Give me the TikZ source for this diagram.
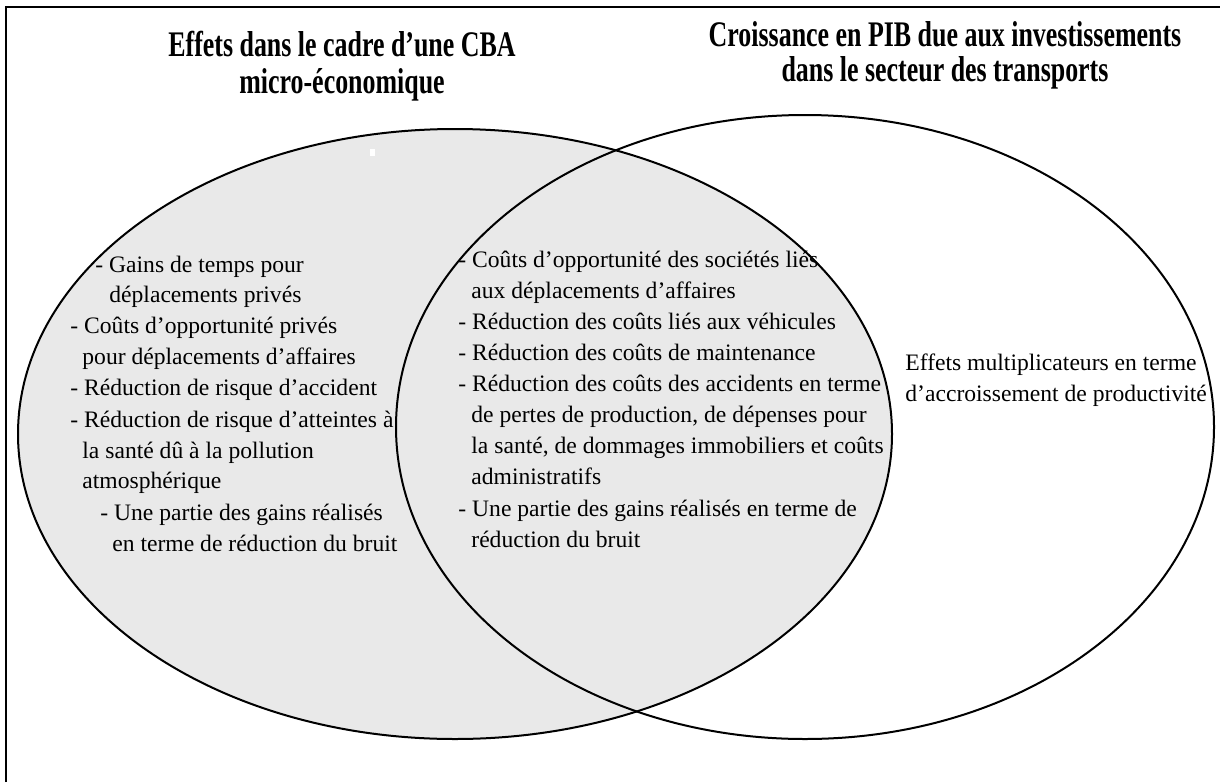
\documentclass[tikz,border=0pt]{standalone}
\usepackage{fontspec}
\setmainfont{Liberation Serif}
\usepackage{graphicx}
\definecolor{venngray}{HTML}{E9E9E9}
\newcommand{\narrow}[1]{\scalebox{0.72}[1]{#1}}
\begin{document}
\begin{tikzpicture}[x=0.5pt,y=-0.5pt,
  frame/.style={line width=1pt},
  outline/.style={line width=1pt},
  item/.style={anchor=base west, inner sep=0pt, font=\fontsize{11.8}{14}\selectfont},
  ttl/.style={anchor=base, inner sep=0pt, font=\fontsize{18}{20}\selectfont\bfseries}]
\useasboundingbox (0,0) rectangle (1220,782);
\fill[white] (0,0) rectangle (1220,782);
% open frame: left and top rules only
\draw[frame] (6,782) -- (6,7) -- (1220,7);

% the two sets
\fill[venngray] (455,434) ellipse [x radius=437, y radius=305];
\fill[white] (370,149) rectangle (375,156);
\draw[outline] (455,434) ellipse [x radius=437, y radius=305];
\draw[outline] (805,427) ellipse [x radius=409, y radius=312];

% headings
\node[ttl] (tl1) at (342,56) {\narrow{Effets dans le cadre d’une CBA}};
\node[ttl] (tl2) at (342,93) {\narrow{micro-économique}};
\node[ttl] (tr1) at (945,46) {\narrow{Croissance en PIB due aux investissements}};
\node[ttl] (tr2) at (945,81) {\narrow{dans le secteur des transports}};

% left-only effects
\node[item] (a1) at (95,272) {- Gains de temps pour};
\node[item] (a2) at (109,302) {déplacements privés};
\node[item] (a3) at (70,333) {- Coûts d’opportunité privés};
\node[item] (a4) at (82,364) {pour déplacements d’affaires};
\node[item] (a5) at (70,395) {- Réduction de risque d’accident};
\node[item] (a6) at (70,427) {- Réduction de risque d’atteintes à};
\node[item] (a7) at (82,458) {la santé dû à la pollution};
\node[item] (a8) at (82,488) {atmosphérique};
\node[item] (a9) at (100,520) {- Une partie des gains réalisés};
\node[item] (a10) at (112,551) {en terme de réduction du bruit};

% shared effects
\node[item] (b1) at (458,267) {- Coûts d’opportunité des sociétés liés};
\node[item] (b2) at (471,298) {aux déplacements d’affaires};
\node[item] (b3) at (458,329) {- Réduction des coûts liés aux véhicules};
\node[item] (b4) at (458,360) {- Réduction des coûts de maintenance};
\node[item] (b5) at (458,391) {- Réduction des coûts des accidents en terme};
\node[item] (b6) at (471,422) {de pertes de production, de dépenses pour};
\node[item] (b7) at (471,453) {la santé, de dommages immobiliers et coûts};
\node[item] (b8) at (471,484) {administratifs};
\node[item] (b9) at (458,516) {- Une partie des gains réalisés en terme de};
\node[item] (b10) at (471,547) {réduction du bruit};

% right-only effects
\node[item] (c1) at (905,370) {Effets multiplicateurs en terme};
\node[item] (c2) at (905,401) {d’accroissement de productivité};
\end{tikzpicture}
\end{document}
